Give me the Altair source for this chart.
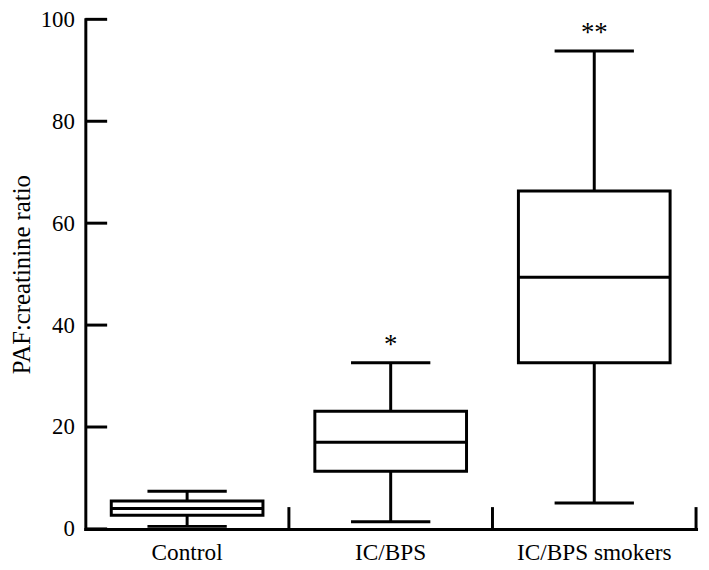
import altair as alt
import pandas as pd

# ---- data ----
categories = ["Control", "IC/BPS", "IC/BPS smokers"]
whisker_low = [0.5, 1.4, 5.1]
q1 = [2.7, 11.3, 32.6]
median = [4.0, 17.0, 49.4]
q3 = [5.5, 23.1, 66.3]
whisker_high = [7.4, 32.6, 93.8]
significance = ["", "*", "**"]
y_ticks = [0, 20, 40, 60, 80, 100]

W, H = 616, 514
FONT = "Liberation Serif"

df = pd.DataFrame({
    "cat": categories,
    "lo": whisker_low,
    "q1": q1,
    "med": median,
    "q3": q3,
    "hi": whisker_high,
    "sig": significance,
})
ticks_df = pd.DataFrame({"v": y_ticks})

xscale = alt.Scale(domain=categories, paddingInner=0, paddingOuter=0)
yscale = alt.Scale(domain=[0, 100], nice=False, zero=True)

x_axis = alt.Axis(labelAngle=0, ticks=False, tickSize=0, labelPadding=12,
                  labelFont=FONT, labelFontSize=23.5, labelColor="black",
                  labelLimit=300,
                  domainColor="black", domainWidth=3, domainCap="square")
y_axis = alt.Axis(values=y_ticks, ticks=False, tickSize=0, grid=False,
                  labelPadding=11, labelFont=FONT, labelFontSize=23,
                  labelColor="black", titleFont=FONT, titleFontSize=25,
                  titleFontWeight="normal", titleColor="black",
                  titlePadding=6, domainColor="black", domainWidth=3,
                  domainCap="square")


def X(**kw):
    return alt.X("cat:N", scale=xscale, sort=categories, title=None,
                 axis=x_axis, **kw)


def Y(field):
    return alt.Y(field, scale=yscale, title="PAF:creatinine ratio", axis=y_axis)


base = alt.Chart(df)

whisker = base.mark_rule(color="black", strokeWidth=3).encode(
    x=X(), y=Y("lo:Q"), y2="hi:Q"
)
box = base.mark_bar(size=153, fill="white", stroke="black", strokeWidth=3,
                    strokeJoin="miter", opacity=1).encode(
    x=X(), y=Y("q1:Q"), y2="q3:Q"
)
med = base.mark_tick(color="black", size=154, thickness=3, opacity=1).encode(
    x=X(), y=Y("med:Q")
)
cap_hi = base.mark_tick(color="black", size=80, thickness=3, opacity=1).encode(
    x=X(), y=Y("hi:Q")
)
cap_lo = base.mark_tick(color="black", size=80, thickness=3, opacity=1).encode(
    x=X(), y=Y("lo:Q")
)
separators = base.mark_rule(color="black", strokeWidth=3).encode(
    x=X(bandPosition=1),
    y=alt.value(H - 22), y2=alt.value(H)
)
yticks = alt.Chart(ticks_df).mark_tick(
    color="black", size=22, thickness=3, opacity=1, orient="horizontal"
).encode(
    y=Y("v:Q"), x=alt.value(11)
)
stars = base.mark_text(font=FONT, fontSize=27, baseline="alphabetic",
                       align="center", dy=-10, color="black").encode(
    x=X(), y=Y("hi:Q"), text="sig:N"
)

chart = alt.layer(whisker, box, med, cap_hi, cap_lo, separators, yticks, stars).properties(
    width=W, height=H,
    autosize=alt.AutoSizeParams(type="none"),
    padding={"left": 78, "top": 9, "right": 5, "bottom": 38},
    background="white",
).configure(font=FONT).configure_view(stroke=None)

chart.save("out.html", embed_options={"renderer": "svg", "actions": False})
